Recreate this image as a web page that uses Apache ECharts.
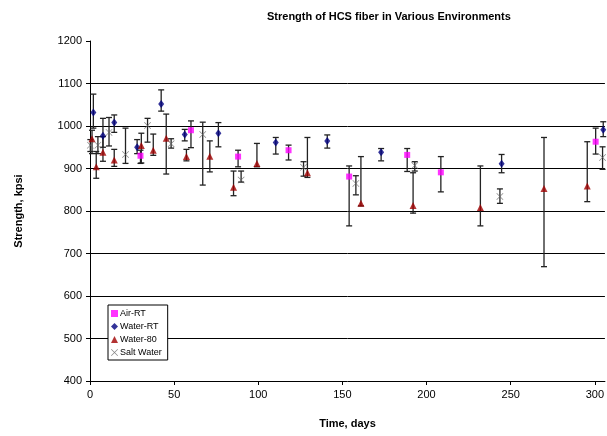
<!DOCTYPE html>
<html>
<head>
<meta charset="utf-8">
<script src="https://cdn.jsdelivr.net/npm/echarts@6/dist/echarts.min.js"></script>
<style>
  html, body { margin: 0; padding: 0; background: #fff; }
  #chart { width: 607px; height: 436px; }
</style>
</head>
<body>
<div id="chart"></div>
<script>
// ---- data (day, strength kpsi, error bar low/high) ----
var airDays   = [30, 60, 88, 118, 154, 188.5, 208.5, 300.5];
var airValues = [930, 990, 928, 943, 881, 932, 891, 963];
var airLow    = [912, 949, 904, 920, 765, 893, 845, 934];
var airHigh   = [943, 1012, 943, 955, 906, 947, 928, 995];

var waterRtDays   = [2, 7.7, 14.4, 28, 42.3, 56.3, 76.3, 110.4, 141, 173, 244.6, 305];
var waterRtValues = [1032, 977, 1008, 950, 1052, 980, 983, 961, 965, 938, 911, 991];
var waterRtLow    = [995, 950, 985, 935, 1035, 965, 951, 934, 948, 918, 890, 975];
var waterRtHigh   = [1075, 1018, 1026, 968, 1085, 992, 1008, 973, 979, 947, 933, 1010];

var water80Days   = [1.2, 3.7, 7.7, 14.4, 30.5, 37.6, 45.3, 57.3, 71.2, 85.3, 99.2, 129.2, 161, 192, 232, 269.8, 295.5];
var water80Values = [970, 904, 938, 920, 954, 943, 971, 928, 929, 856, 912, 890, 818, 813, 808, 853, 859];
var water80Low    = [935, 877, 917, 905, 913, 931, 887, 918, 892, 836, 904, 879, 812, 795, 765, 669, 822];
var water80High   = [990, 940, 975, 945, 983, 981, 1028, 945, 965, 894, 959, 973, 928, 890, 906, 973, 963];

var saltDays   = [0.2, 4.7, 11.3, 21.1, 34.2, 48.2, 67, 89.8, 126.9, 158, 193, 243.6, 304.6];
var saltValues = [955, 955, 985, 933, 1001, 958, 980, 873, 903, 865, 907, 834, 926];
var saltLow    = [940, 935, 953, 912, 962, 948, 861, 868, 882, 838, 894, 818, 898];
var saltHigh   = [968, 975, 1020, 995, 1018, 970, 1009, 894, 916, 883, 916, 852, 951];

var xTicks = [0, 50, 100, 150, 200, 250, 300];

var FONT = 'Liberation Sans, Arial, sans-serif';
// thin x-shaped marker
var X_SYMBOL = 'path://M0,0.7L0.7,0L5,4.3L9.3,0L10,0.7L5.7,5L10,9.3L9.3,10L5,5.7L0.7,10L0,9.3L4.3,5Z';

function points(days, values) {
  return days.map(function(d, i) { return [d, values[i]]; });
}

function bars(days, lows, highs) {
  return days.map(function(d, i) { return [d, lows[i], highs[i]]; });
}

function renderErrorBar(params, api) {
  var x = api.value(0);
  var top = api.coord([x, api.value(2)]);
  var bot = api.coord([x, api.value(1)]);
  var style = { stroke: '#222', lineWidth: 1.3 };
  return {
    type: 'group',
    children: [
      { type: 'line', shape: { x1: top[0], y1: top[1], x2: bot[0], y2: bot[1] }, style: style },
      { type: 'line', shape: { x1: top[0] - 3, y1: top[1], x2: top[0] + 3, y2: top[1] }, style: style },
      { type: 'line', shape: { x1: bot[0] - 3, y1: bot[1], x2: bot[0] + 3, y2: bot[1] }, style: style }
    ]
  };
}

function errorSeries(name, data) {
  return {
    name: name,
    type: 'custom',
    renderItem: renderErrorBar,
    encode: { x: 0, y: [1, 2] },
    data: data,
    z: 1,
    silent: true
  };
}

var chart = echarts.init(document.getElementById('chart'));

chart.setOption({
  animation: false,
  backgroundColor: '#fff',
  title: {
    text: 'Strength of HCS fiber in Various Environments',
    left: 262,
    top: 6,
    textStyle: { fontFamily: FONT, fontSize: 11, fontWeight: 'bold', color: '#000' }
  },
  grid: { left: 90, right: 1, top: 41, bottom: 55 },
  legend: {
    orient: 'vertical',
    left: 108,
    top: 305,
    data: ['Air-RT', 'Water-RT', 'Water-80', 'Salt Water'],
    borderColor: '#000',
    borderWidth: 1,
    backgroundColor: '#fff',
    padding: [4, 6, 3, 3],
    itemGap: 4,
    itemWidth: 7,
    itemHeight: 7,
    textStyle: { fontFamily: FONT, fontSize: 9, color: '#000', padding: [0, 0, 0, -3] }
  },
  xAxis: {
    type: 'value',
    min: 0,
    max: 306,
    interval: 50,
    name: 'Time, days',
    nameLocation: 'middle',
    nameGap: 37,
    nameTextStyle: { fontFamily: FONT, fontSize: 11, fontWeight: 'bold', color: '#000' },
    axisLine: { lineStyle: { color: '#000', width: 1 } },
    axisTick: { inside: false, length: 4, lineStyle: { color: '#000' }, customValues: xTicks },
    axisLabel: { fontFamily: FONT, fontSize: 11, color: '#000', margin: 8, customValues: xTicks },
    splitLine: { show: false }
  },
  yAxis: {
    type: 'value',
    min: 400,
    max: 1200,
    interval: 100,
    name: 'Strength, kpsi',
    nameLocation: 'middle',
    nameGap: 66,
    nameRotate: 90,
    nameTextStyle: { fontFamily: FONT, fontSize: 11, fontWeight: 'bold', color: '#000' },
    axisLine: { show: true, lineStyle: { color: '#000', width: 1 } },
    axisTick: { show: true, length: 4, lineStyle: { color: '#000' } },
    axisLabel: {
      fontFamily: FONT, fontSize: 11, color: '#000', margin: 8,
      formatter: function(v) { return String(v); }
    },
    splitLine: {
      show: true,
      lineStyle: {
        color: ['transparent', '#000', '#000', '#000', '#000', '#000', '#000', '#000', 'transparent'],
        width: 1
      }
    }
  },
  series: [
    errorSeries('Air-RT bars', bars(airDays, airLow, airHigh)),
    errorSeries('Water-RT bars', bars(waterRtDays, waterRtLow, waterRtHigh)),
    errorSeries('Water-80 bars', bars(water80Days, water80Low, water80High)),
    errorSeries('Salt Water bars', bars(saltDays, saltLow, saltHigh)),
    {
      name: 'Air-RT',
      type: 'scatter',
      symbol: 'rect',
      symbolSize: 6,
      itemStyle: { color: '#FF00FF' },
      data: points(airDays, airValues),
      z: 3
    },
    {
      name: 'Water-RT',
      type: 'scatter',
      symbol: 'diamond',
      symbolSize: [6, 8],
      itemStyle: { color: '#000080' },
      data: points(waterRtDays, waterRtValues),
      z: 3
    },
    {
      name: 'Water-80',
      type: 'scatter',
      symbol: 'triangle',
      symbolSize: [7, 7],
      itemStyle: { color: '#A00000' },
      data: points(water80Days, water80Values),
      z: 3
    },
    {
      name: 'Salt Water',
      type: 'scatter',
      symbol: X_SYMBOL,
      symbolSize: 7,
      itemStyle: { color: '#666' },
      data: points(saltDays, saltValues),
      z: 3
    }
  ]
});
</script>
</body>
</html>
